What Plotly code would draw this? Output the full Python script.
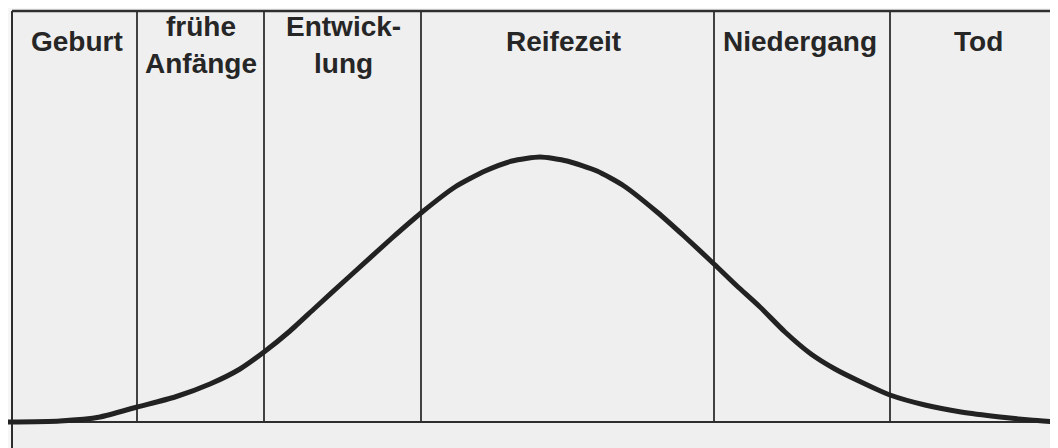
import plotly.graph_objects as go

# Stage boundaries along the life-cycle axis (horizontal units)
stage_bounds = [12, 137, 264, 421, 714, 890, 1066]
# stage label lines (each stage: list of lines) and their centres
stage_lines = [["Geburt"], ["frühe", "Anfänge"], ["Entwick-", "lung"],
               ["Reifezeit"], ["Niedergang"], ["Tod"]]
label_x = [77, 201, 343, 563, 800, 978]

# Bell-shaped development curve (x position, height above baseline)
curve_x = [8, 60, 100, 137, 175, 210, 240, 264, 290, 315, 350, 392, 421, 455, 485, 512, 540,
           567, 597, 624, 657, 684, 714, 737, 760, 785, 811, 835, 861, 890, 925, 961, 1000, 1030, 1058]
curve_y = [0, 1, 5, 15, 25, 38, 53, 70, 91, 114, 146, 184, 209, 235, 251, 261, 265,
           261, 251, 236, 210, 186, 158, 136, 115, 90, 68, 53, 40, 27, 17, 10, 5, 2, 0]

baseline = 0
top_level = 411
bottom_level = -26
single_line_level = 381
two_line_levels = [396, 359]

ink = "#2e2e2e"
fig = go.Figure()

# box interior tone
fig.add_trace(go.Scatter(x=[stage_bounds[0], 1058, 1058, stage_bounds[0], stage_bounds[0]],
                         y=[top_level, top_level, bottom_level, bottom_level, top_level],
                         mode="lines", fill="toself", fillcolor="#efefef",
                         line=dict(width=0), hoverinfo="skip"))

# frame: top line, baseline, left edge
fig.add_trace(go.Scatter(x=[stage_bounds[0], 1058], y=[top_level, top_level], mode="lines",
                         line=dict(color=ink, width=2.4), hoverinfo="skip"))
fig.add_trace(go.Scatter(x=[8, 1058], y=[baseline, baseline], mode="lines",
                         line=dict(color=ink, width=2), hoverinfo="skip"))
fig.add_trace(go.Scatter(x=[stage_bounds[0], stage_bounds[0]], y=[top_level, bottom_level], mode="lines",
                         line=dict(color=ink, width=2), hoverinfo="skip"))

# stage separators
vx, vy = [], []
for b in stage_bounds[1:-1]:
    vx += [b, b, None]
    vy += [top_level, baseline, None]
fig.add_trace(go.Scatter(x=vx, y=vy, mode="lines", line=dict(color=ink, width=1.8), hoverinfo="skip"))

# curve
fig.add_trace(go.Scatter(x=curve_x, y=curve_y, mode="lines",
                         line=dict(color="#222222", width=5, shape="spline", smoothing=0.6),
                         hoverinfo="skip"))

# stage labels
for i, lines in enumerate(stage_lines):
    levels = [single_line_level] if len(lines) == 1 else two_line_levels
    for text, lvl in zip(lines, levels):
        fig.add_annotation(x=label_x[i], y=lvl, text="<b>" + text + "</b>", showarrow=False,
                           font=dict(family="Liberation Sans, Arial, sans-serif", size=28, color="#262626"),
                           xanchor="center", yanchor="middle", align="center")

fig.update_layout(
    width=1050, height=440,
    margin=dict(l=0, r=0, t=0, b=0),
    paper_bgcolor="#f6f6f6", plot_bgcolor="#f6f6f6",
    showlegend=False,
    xaxis=dict(range=[8, 1058], visible=False, fixedrange=True),
    yaxis=dict(range=[-26, 414], visible=False, fixedrange=True),
)

fig.write_html("out.html")
